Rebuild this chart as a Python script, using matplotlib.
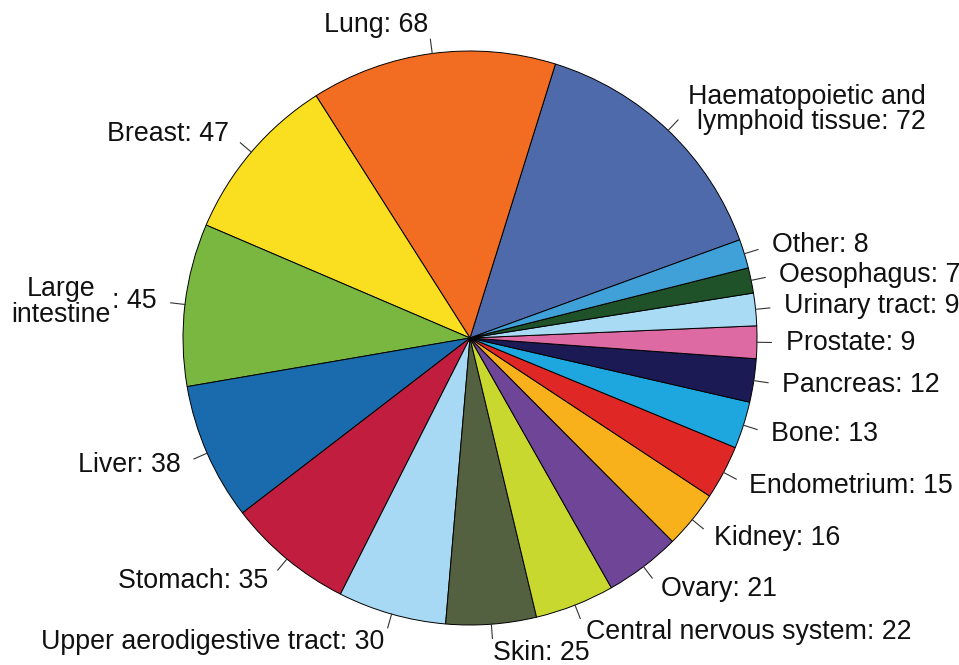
import matplotlib
matplotlib.use("Agg")
import matplotlib.pyplot as plt
import numpy as np

labels = ["Haematopoietic and\nlymphoid tissue", "Lung", "Breast", "Large\nintestine", "Liver",
          "Stomach", "Upper aerodigestive tract", "Skin", "Central nervous system", "Ovary",
          "Kidney", "Endometrium", "Bone", "Pancreas", "Prostate", "Urinary tract",
          "Oesophagus", "Other"]
values = [72, 68, 47, 45, 38, 35, 30, 25, 22, 21, 16, 15, 13, 12, 9, 9, 7, 8]
colors = ["#4F6AAB", "#F26C21", "#F9DF1F", "#7AB740", "#1A6BAE", "#C11E3F", "#A7D8F4",
          "#546141", "#C8D82F", "#6E4597", "#F8B11A", "#DF2726", "#1EA6DF", "#1C1A55",
          "#DE6AA4", "#A9DBF5", "#1F5229", "#40A0D8"]

W, H = 959, 665
fig = plt.figure(figsize=(W / 100, H / 100), dpi=100)
ax = fig.add_axes([0, 0, 1, 1])

cx, cy, R = 470, H - 338, 287
start = 20.0
wedges, _ = ax.pie(values, colors=colors, startangle=start, counterclock=True,
                   center=(cx, cy), radius=R, frame=True,
                   wedgeprops=dict(edgecolor="black", linewidth=0.7))
ax.set_xlim(0, W)
ax.set_ylim(0, H)
ax.set_aspect("equal")
ax.axis("off")

font = dict(family=["Liberation Sans", "DejaVu Sans"], fontsize=19.3, color="#111111")
total = sum(values)
cum = 0
for lab, v in zip(labels, values):
    mid = np.deg2rad(start + 360 * (cum + v / 2) / total)
    cum += v
    c, s = np.cos(mid), np.sin(mid)
    ax.plot([cx + R * c, cx + 1.05 * R * c], [cy + R * s, cy + 1.05 * R * s],
            color="#333333", lw=0.8)
    tx, ty = cx + 1.1 * R * c, cy + 1.1 * R * s
    ha = "left" if c > 0 else "right"
    if lab.startswith("Large"):
        t = ax.text(tx, ty, f": {v}", ha="right", va="center", **font)
        ax.annotate(lab, xy=(-0.03, 0.45), xycoords=t, ha="right", va="center",
                    multialignment="center", linespacing=1.0, **font)
    else:
        ax.text(tx, ty, f"{lab}: {v}", ha=ha, va="center",
                multialignment="right", linespacing=0.95, **font)

fig.savefig("out.png", dpi=100)
